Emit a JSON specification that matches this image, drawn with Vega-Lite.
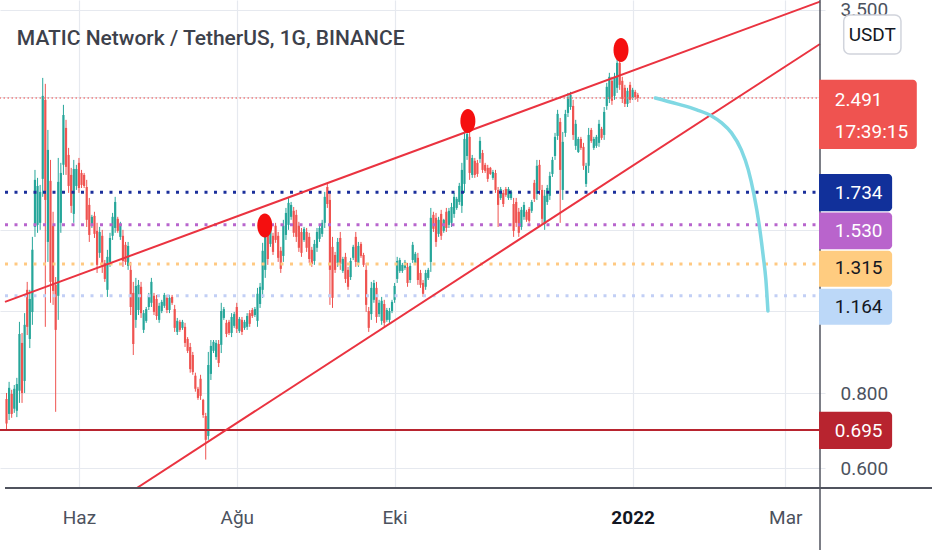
{
  "$schema": "https://vega.github.io/schema/vega-lite/v6.json",
  "description": "MATIC/USDT gunluk mum grafigi, kanal cizgileri ve seviyeler",
  "width": 825,
  "height": 488,
  "autosize": {"type": "none"},
  "padding": {"left": 0, "top": 0, "right": 107, "bottom": 62},
  "background": "#ffffff",
  "config": {"view": {"stroke": null}, "font": "Roboto"},
  "datasets": {
    "candles": [
      {"t":"2021-05-04","o":0.783,"h":0.801,"l":0.695,"c":0.712},
      {"t":"2021-05-05","o":0.739,"h":0.836,"l":0.722,"c":0.817},
      {"t":"2021-05-06","o":0.798,"h":0.811,"l":0.728,"c":0.739},
      {"t":"2021-05-07","o":0.754,"h":0.826,"l":0.742,"c":0.814},
      {"t":"2021-05-08","o":0.748,"h":0.849,"l":0.730,"c":0.829},
      {"t":"2021-05-09","o":0.808,"h":1.053,"l":0.771,"c":1.005},
      {"t":"2021-05-10","o":0.971,"h":1.009,"l":0.771,"c":0.801},
      {"t":"2021-05-11","o":0.839,"h":1.089,"l":0.801,"c":1.041},
      {"t":"2021-05-12","o":1.191,"h":1.228,"l":1.001,"c":1.033},
      {"t":"2021-05-13","o":0.986,"h":1.191,"l":0.952,"c":1.150},
      {"t":"2021-05-14","o":1.094,"h":1.460,"l":1.041,"c":1.389},
      {"t":"2021-05-15","o":1.517,"h":1.889,"l":1.460,"c":1.818},
      {"t":"2021-05-16","o":1.529,"h":1.832,"l":1.483,"c":1.776},
      {"t":"2021-05-17","o":1.541,"h":1.783,"l":1.500,"c":1.736},
      {"t":"2021-05-18","o":1.825,"h":2.691,"l":1.703,"c":2.511},
      {"t":"2021-05-19","o":2.473,"h":2.630,"l":1.033,"c":1.683},
      {"t":"2021-05-20","o":1.432,"h":2.203,"l":1.326,"c":2.040},
      {"t":"2021-05-21","o":1.811,"h":1.963,"l":1.133,"c":1.228},
      {"t":"2021-05-22","o":1.524,"h":1.608,"l":1.124,"c":1.186},
      {"t":"2021-05-23","o":1.214,"h":1.251,"l":0.745,"c":1.021},
      {"t":"2021-05-24","o":1.164,"h":1.978,"l":1.061,"c":1.804},
      {"t":"2021-05-25","o":1.541,"h":1.941,"l":1.483,"c":1.867},
      {"t":"2021-05-26","o":1.926,"h":2.426,"l":1.853,"c":2.334},
      {"t":"2021-05-27","o":2.220,"h":2.290,"l":1.853,"c":1.911},
      {"t":"2021-05-28","o":2.001,"h":2.056,"l":1.729,"c":1.776},
      {"t":"2021-05-29","o":1.853,"h":1.904,"l":1.601,"c":1.645},
      {"t":"2021-05-30","o":1.595,"h":1.963,"l":1.541,"c":1.896},
      {"t":"2021-05-31","o":1.776,"h":1.926,"l":1.749,"c":1.896},
      {"t":"2021-06-01","o":1.941,"h":1.978,"l":1.729,"c":1.762},
      {"t":"2021-06-02","o":1.867,"h":1.889,"l":1.762,"c":1.783},
      {"t":"2021-06-03","o":1.853,"h":1.867,"l":1.762,"c":1.776},
      {"t":"2021-06-04","o":1.769,"h":1.818,"l":1.517,"c":1.559},
      {"t":"2021-06-05","o":1.651,"h":1.696,"l":1.432,"c":1.471},
      {"t":"2021-06-06","o":1.524,"h":1.589,"l":1.511,"c":1.577},
      {"t":"2021-06-07","o":1.583,"h":1.608,"l":1.454,"c":1.477},
      {"t":"2021-06-08","o":1.494,"h":1.541,"l":1.271,"c":1.311},
      {"t":"2021-06-09","o":1.373,"h":1.517,"l":1.347,"c":1.488},
      {"t":"2021-06-10","o":1.466,"h":1.500,"l":1.271,"c":1.301},
      {"t":"2021-06-11","o":1.321,"h":1.336,"l":1.228,"c":1.242},
      {"t":"2021-06-12","o":1.191,"h":1.389,"l":1.159,"c":1.352},
      {"t":"2021-06-13","o":1.326,"h":1.483,"l":1.301,"c":1.454},
      {"t":"2021-06-14","o":1.466,"h":1.601,"l":1.443,"c":1.577},
      {"t":"2021-06-15","o":1.511,"h":1.703,"l":1.483,"c":1.670},
      {"t":"2021-06-16","o":1.565,"h":1.577,"l":1.483,"c":1.494},
      {"t":"2021-06-17","o":1.460,"h":1.547,"l":1.443,"c":1.529},
      {"t":"2021-06-18","o":1.466,"h":1.500,"l":1.301,"c":1.331},
      {"t":"2021-06-19","o":1.416,"h":1.432,"l":1.311,"c":1.326},
      {"t":"2021-06-20","o":1.306,"h":1.432,"l":1.286,"c":1.410},
      {"t":"2021-06-21","o":1.286,"h":1.326,"l":1.081,"c":1.115},
      {"t":"2021-06-22","o":1.177,"h":1.228,"l":0.927,"c":0.967},
      {"t":"2021-06-23","o":1.061,"h":1.247,"l":1.029,"c":1.209},
      {"t":"2021-06-24","o":1.102,"h":1.237,"l":1.081,"c":1.214},
      {"t":"2021-06-25","o":1.205,"h":1.228,"l":1.069,"c":1.089},
      {"t":"2021-06-26","o":1.021,"h":1.102,"l":1.009,"c":1.089},
      {"t":"2021-06-27","o":1.057,"h":1.115,"l":1.049,"c":1.106},
      {"t":"2021-06-28","o":1.115,"h":1.177,"l":1.102,"c":1.164},
      {"t":"2021-06-29","o":1.133,"h":1.247,"l":1.115,"c":1.228},
      {"t":"2021-06-30","o":1.164,"h":1.177,"l":1.081,"c":1.094},
      {"t":"2021-07-01","o":1.150,"h":1.168,"l":1.061,"c":1.077},
      {"t":"2021-07-02","o":1.061,"h":1.133,"l":1.049,"c":1.120},
      {"t":"2021-07-03","o":1.098,"h":1.146,"l":1.089,"c":1.137},
      {"t":"2021-07-04","o":1.120,"h":1.177,"l":1.111,"c":1.168},
      {"t":"2021-07-05","o":1.155,"h":1.168,"l":1.089,"c":1.102},
      {"t":"2021-07-06","o":1.102,"h":1.168,"l":1.089,"c":1.155},
      {"t":"2021-07-07","o":1.159,"h":1.168,"l":1.124,"c":1.133},
      {"t":"2021-07-08","o":1.106,"h":1.124,"l":1.013,"c":1.029},
      {"t":"2021-07-09","o":1.013,"h":1.069,"l":1.001,"c":1.057},
      {"t":"2021-07-10","o":1.053,"h":1.061,"l":1.013,"c":1.021},
      {"t":"2021-07-11","o":1.029,"h":1.061,"l":1.021,"c":1.053},
      {"t":"2021-07-12","o":1.033,"h":1.049,"l":0.956,"c":0.971},
      {"t":"2021-07-13","o":0.986,"h":0.993,"l":0.934,"c":0.942},
      {"t":"2021-07-14","o":0.956,"h":0.971,"l":0.866,"c":0.878},
      {"t":"2021-07-15","o":0.927,"h":0.938,"l":0.859,"c":0.868},
      {"t":"2021-07-16","o":0.856,"h":0.866,"l":0.805,"c":0.814},
      {"t":"2021-07-17","o":0.814,"h":0.820,"l":0.780,"c":0.786},
      {"t":"2021-07-18","o":0.846,"h":0.859,"l":0.780,"c":0.792},
      {"t":"2021-07-19","o":0.780,"h":0.783,"l":0.728,"c":0.736},
      {"t":"2021-07-20","o":0.733,"h":0.742,"l":0.620,"c":0.669},
      {"t":"2021-07-21","o":0.679,"h":0.938,"l":0.669,"c":0.892},
      {"t":"2021-07-22","o":0.862,"h":0.982,"l":0.842,"c":0.960},
      {"t":"2021-07-23","o":0.942,"h":0.982,"l":0.934,"c":0.975},
      {"t":"2021-07-24","o":0.920,"h":0.982,"l":0.910,"c":0.971},
      {"t":"2021-07-25","o":0.967,"h":0.982,"l":0.885,"c":0.899},
      {"t":"2021-07-26","o":0.964,"h":1.133,"l":0.934,"c":1.098},
      {"t":"2021-07-27","o":1.069,"h":1.115,"l":1.061,"c":1.106},
      {"t":"2021-07-28","o":1.049,"h":1.061,"l":0.993,"c":1.005},
      {"t":"2021-07-29","o":1.053,"h":1.061,"l":1.001,"c":1.009},
      {"t":"2021-07-30","o":1.009,"h":1.089,"l":0.993,"c":1.073},
      {"t":"2021-07-31","o":1.037,"h":1.094,"l":1.029,"c":1.085},
      {"t":"2021-08-01","o":1.115,"h":1.133,"l":1.009,"c":1.025},
      {"t":"2021-08-02","o":1.017,"h":1.073,"l":1.009,"c":1.065},
      {"t":"2021-08-03","o":1.061,"h":1.073,"l":1.001,"c":1.013},
      {"t":"2021-08-04","o":1.029,"h":1.061,"l":1.021,"c":1.053},
      {"t":"2021-08-05","o":1.033,"h":1.089,"l":1.021,"c":1.077},
      {"t":"2021-08-06","o":1.089,"h":1.102,"l":1.033,"c":1.045},
      {"t":"2021-08-07","o":1.102,"h":1.111,"l":1.069,"c":1.077},
      {"t":"2021-08-08","o":1.081,"h":1.115,"l":1.073,"c":1.106},
      {"t":"2021-08-09","o":1.057,"h":1.200,"l":1.033,"c":1.173},
      {"t":"2021-08-10","o":1.128,"h":1.223,"l":1.111,"c":1.205},
      {"t":"2021-08-11","o":1.191,"h":1.427,"l":1.155,"c":1.384},
      {"t":"2021-08-12","o":1.286,"h":1.517,"l":1.247,"c":1.471},
      {"t":"2021-08-13","o":1.477,"h":1.511,"l":1.311,"c":1.341},
      {"t":"2021-08-14","o":1.421,"h":1.529,"l":1.405,"c":1.511},
      {"t":"2021-08-15","o":1.466,"h":1.483,"l":1.362,"c":1.378},
      {"t":"2021-08-16","o":1.524,"h":1.541,"l":1.427,"c":1.443},
      {"t":"2021-08-17","o":1.466,"h":1.488,"l":1.326,"c":1.347},
      {"t":"2021-08-18","o":1.384,"h":1.405,"l":1.271,"c":1.291},
      {"t":"2021-08-19","o":1.357,"h":1.559,"l":1.326,"c":1.524},
      {"t":"2021-08-20","o":1.471,"h":1.632,"l":1.443,"c":1.601},
      {"t":"2021-08-21","o":1.529,"h":1.696,"l":1.500,"c":1.664},
      {"t":"2021-08-22","o":1.577,"h":1.670,"l":1.559,"c":1.651},
      {"t":"2021-08-23","o":1.614,"h":1.638,"l":1.460,"c":1.483},
      {"t":"2021-08-24","o":1.589,"h":1.620,"l":1.432,"c":1.460},
      {"t":"2021-08-25","o":1.524,"h":1.547,"l":1.378,"c":1.400},
      {"t":"2021-08-26","o":1.488,"h":1.511,"l":1.352,"c":1.373},
      {"t":"2021-08-27","o":1.443,"h":1.517,"l":1.432,"c":1.506},
      {"t":"2021-08-28","o":1.488,"h":1.511,"l":1.378,"c":1.400},
      {"t":"2021-08-29","o":1.460,"h":1.483,"l":1.321,"c":1.341},
      {"t":"2021-08-30","o":1.389,"h":1.405,"l":1.301,"c":1.316},
      {"t":"2021-08-31","o":1.331,"h":1.443,"l":1.311,"c":1.421},
      {"t":"2021-09-01","o":1.400,"h":1.511,"l":1.378,"c":1.488},
      {"t":"2021-09-02","o":1.449,"h":1.529,"l":1.432,"c":1.511},
      {"t":"2021-09-03","o":1.477,"h":1.559,"l":1.460,"c":1.541},
      {"t":"2021-09-04","o":1.541,"h":1.736,"l":1.511,"c":1.703},
      {"t":"2021-09-05","o":1.769,"h":1.797,"l":1.632,"c":1.657},
      {"t":"2021-09-06","o":1.683,"h":1.729,"l":1.124,"c":1.286},
      {"t":"2021-09-07","o":1.405,"h":1.460,"l":1.111,"c":1.155},
      {"t":"2021-09-08","o":1.362,"h":1.378,"l":1.271,"c":1.286},
      {"t":"2021-09-09","o":1.321,"h":1.454,"l":1.301,"c":1.432},
      {"t":"2021-09-10","o":1.454,"h":1.488,"l":1.286,"c":1.316},
      {"t":"2021-09-11","o":1.281,"h":1.352,"l":1.271,"c":1.341},
      {"t":"2021-09-12","o":1.352,"h":1.373,"l":1.223,"c":1.242},
      {"t":"2021-09-13","o":1.286,"h":1.301,"l":1.191,"c":1.205},
      {"t":"2021-09-14","o":1.251,"h":1.347,"l":1.237,"c":1.331},
      {"t":"2021-09-15","o":1.347,"h":1.416,"l":1.336,"c":1.405},
      {"t":"2021-09-16","o":1.460,"h":1.488,"l":1.301,"c":1.326},
      {"t":"2021-09-17","o":1.321,"h":1.432,"l":1.301,"c":1.410},
      {"t":"2021-09-18","o":1.421,"h":1.432,"l":1.347,"c":1.357},
      {"t":"2021-09-19","o":1.362,"h":1.373,"l":1.301,"c":1.311},
      {"t":"2021-09-20","o":1.286,"h":1.321,"l":1.094,"c":1.124},
      {"t":"2021-09-21","o":1.098,"h":1.115,"l":1.013,"c":1.029},
      {"t":"2021-09-22","o":1.085,"h":1.228,"l":1.061,"c":1.200},
      {"t":"2021-09-23","o":1.146,"h":1.237,"l":1.133,"c":1.223},
      {"t":"2021-09-24","o":1.200,"h":1.228,"l":1.049,"c":1.073},
      {"t":"2021-09-25","o":1.085,"h":1.146,"l":1.073,"c":1.133},
      {"t":"2021-09-26","o":1.057,"h":1.159,"l":1.041,"c":1.142},
      {"t":"2021-09-27","o":1.128,"h":1.146,"l":1.033,"c":1.049},
      {"t":"2021-09-28","o":1.061,"h":1.111,"l":1.053,"c":1.102},
      {"t":"2021-09-29","o":1.061,"h":1.111,"l":1.049,"c":1.098},
      {"t":"2021-09-30","o":1.098,"h":1.146,"l":1.089,"c":1.137},
      {"t":"2021-10-01","o":1.146,"h":1.223,"l":1.133,"c":1.209},
      {"t":"2021-10-02","o":1.242,"h":1.352,"l":1.223,"c":1.331},
      {"t":"2021-10-03","o":1.281,"h":1.347,"l":1.271,"c":1.336},
      {"t":"2021-10-04","o":1.281,"h":1.321,"l":1.271,"c":1.311},
      {"t":"2021-10-05","o":1.296,"h":1.336,"l":1.286,"c":1.326},
      {"t":"2021-10-06","o":1.301,"h":1.321,"l":1.205,"c":1.223},
      {"t":"2021-10-07","o":1.237,"h":1.321,"l":1.223,"c":1.306},
      {"t":"2021-10-08","o":1.336,"h":1.432,"l":1.321,"c":1.416},
      {"t":"2021-10-09","o":1.321,"h":1.378,"l":1.311,"c":1.368},
      {"t":"2021-10-10","o":1.347,"h":1.373,"l":1.214,"c":1.237},
      {"t":"2021-10-11","o":1.271,"h":1.286,"l":1.200,"c":1.214},
      {"t":"2021-10-12","o":1.223,"h":1.237,"l":1.159,"c":1.173},
      {"t":"2021-10-13","o":1.205,"h":1.286,"l":1.191,"c":1.271},
      {"t":"2021-10-14","o":1.247,"h":1.296,"l":1.237,"c":1.286},
      {"t":"2021-10-15","o":1.326,"h":1.632,"l":1.276,"c":1.571},
      {"t":"2021-10-16","o":1.589,"h":1.608,"l":1.488,"c":1.506},
      {"t":"2021-10-17","o":1.571,"h":1.601,"l":1.405,"c":1.432},
      {"t":"2021-10-18","o":1.477,"h":1.577,"l":1.460,"c":1.559},
      {"t":"2021-10-19","o":1.595,"h":1.620,"l":1.443,"c":1.466},
      {"t":"2021-10-20","o":1.494,"h":1.565,"l":1.483,"c":1.559},
      {"t":"2021-10-21","o":1.608,"h":1.632,"l":1.488,"c":1.511},
      {"t":"2021-10-22","o":1.529,"h":1.632,"l":1.511,"c":1.614},
      {"t":"2021-10-23","o":1.541,"h":1.664,"l":1.517,"c":1.638},
      {"t":"2021-10-24","o":1.595,"h":1.729,"l":1.571,"c":1.703},
      {"t":"2021-10-25","o":1.632,"h":1.703,"l":1.620,"c":1.690},
      {"t":"2021-10-26","o":1.670,"h":1.797,"l":1.651,"c":1.776},
      {"t":"2021-10-27","o":1.645,"h":1.941,"l":1.601,"c":1.889},
      {"t":"2021-10-28","o":1.790,"h":2.203,"l":1.729,"c":2.128},
      {"t":"2021-10-29","o":1.993,"h":2.220,"l":1.963,"c":2.169},
      {"t":"2021-10-30","o":2.145,"h":2.203,"l":1.818,"c":1.867},
      {"t":"2021-10-31","o":1.853,"h":2.001,"l":1.832,"c":1.978},
      {"t":"2021-11-01","o":1.956,"h":1.978,"l":1.832,"c":1.853},
      {"t":"2021-11-02","o":1.941,"h":1.963,"l":1.839,"c":1.860},
      {"t":"2021-11-03","o":1.971,"h":2.145,"l":1.941,"c":2.112},
      {"t":"2021-11-04","o":2.016,"h":2.040,"l":1.867,"c":1.889},
      {"t":"2021-11-05","o":1.926,"h":1.941,"l":1.867,"c":1.882},
      {"t":"2021-11-06","o":1.904,"h":1.926,"l":1.804,"c":1.825},
      {"t":"2021-11-07","o":1.904,"h":1.911,"l":1.853,"c":1.860},
      {"t":"2021-11-08","o":1.832,"h":1.889,"l":1.818,"c":1.874},
      {"t":"2021-11-09","o":1.867,"h":1.889,"l":1.729,"c":1.749},
      {"t":"2021-11-10","o":1.749,"h":1.769,"l":1.517,"c":1.651},
      {"t":"2021-11-11","o":1.696,"h":1.769,"l":1.683,"c":1.755},
      {"t":"2021-11-12","o":1.729,"h":1.749,"l":1.638,"c":1.657},
      {"t":"2021-11-13","o":1.755,"h":1.769,"l":1.703,"c":1.716},
      {"t":"2021-11-14","o":1.696,"h":1.769,"l":1.683,"c":1.755},
      {"t":"2021-11-15","o":1.696,"h":1.749,"l":1.683,"c":1.736},
      {"t":"2021-11-16","o":1.657,"h":1.696,"l":1.460,"c":1.494},
      {"t":"2021-11-17","o":1.670,"h":1.696,"l":1.517,"c":1.541},
      {"t":"2021-11-18","o":1.608,"h":1.632,"l":1.460,"c":1.483},
      {"t":"2021-11-19","o":1.517,"h":1.638,"l":1.500,"c":1.620},
      {"t":"2021-11-20","o":1.577,"h":1.670,"l":1.559,"c":1.651},
      {"t":"2021-11-21","o":1.608,"h":1.620,"l":1.547,"c":1.559},
      {"t":"2021-11-22","o":1.626,"h":1.638,"l":1.541,"c":1.553},
      {"t":"2021-11-23","o":1.614,"h":1.683,"l":1.601,"c":1.670},
      {"t":"2021-11-24","o":1.797,"h":1.818,"l":1.670,"c":1.690},
      {"t":"2021-11-25","o":1.723,"h":1.963,"l":1.683,"c":1.919},
      {"t":"2021-11-26","o":1.926,"h":1.963,"l":1.716,"c":1.749},
      {"t":"2021-11-27","o":1.749,"h":1.783,"l":1.529,"c":1.565},
      {"t":"2021-11-28","o":1.535,"h":1.749,"l":1.500,"c":1.710},
      {"t":"2021-11-29","o":1.670,"h":1.783,"l":1.651,"c":1.762},
      {"t":"2021-11-30","o":1.710,"h":1.875,"l":1.683,"c":1.846},
      {"t":"2021-12-01","o":1.860,"h":1.986,"l":1.839,"c":1.963},
      {"t":"2021-12-02","o":1.993,"h":2.178,"l":1.963,"c":2.145},
      {"t":"2021-12-03","o":2.153,"h":2.380,"l":2.120,"c":2.343},
      {"t":"2021-12-04","o":2.272,"h":2.307,"l":1.541,"c":1.889},
      {"t":"2021-12-05","o":1.749,"h":2.186,"l":1.683,"c":2.104},
      {"t":"2021-12-06","o":2.178,"h":2.380,"l":2.145,"c":2.343},
      {"t":"2021-12-07","o":2.352,"h":2.540,"l":2.315,"c":2.501},
      {"t":"2021-12-08","o":2.406,"h":2.550,"l":2.380,"c":2.521},
      {"t":"2021-12-09","o":2.416,"h":2.473,"l":2.120,"c":2.161},
      {"t":"2021-12-10","o":2.072,"h":2.290,"l":2.040,"c":2.255},
      {"t":"2021-12-11","o":2.024,"h":2.145,"l":2.016,"c":2.128},
      {"t":"2021-12-12","o":2.128,"h":2.145,"l":2.040,"c":2.056},
      {"t":"2021-12-13","o":2.064,"h":2.096,"l":1.889,"c":1.919},
      {"t":"2021-12-14","o":1.790,"h":1.941,"l":1.769,"c":1.919},
      {"t":"2021-12-15","o":1.919,"h":2.220,"l":1.867,"c":2.161},
      {"t":"2021-12-16","o":2.203,"h":2.220,"l":2.096,"c":2.112},
      {"t":"2021-12-17","o":2.056,"h":2.145,"l":2.040,"c":2.128},
      {"t":"2021-12-18","o":2.072,"h":2.161,"l":2.056,"c":2.145},
      {"t":"2021-12-19","o":2.096,"h":2.290,"l":2.064,"c":2.255},
      {"t":"2021-12-20","o":2.212,"h":2.229,"l":2.120,"c":2.137},
      {"t":"2021-12-21","o":2.161,"h":2.406,"l":2.120,"c":2.361},
      {"t":"2021-12-22","o":2.416,"h":2.640,"l":2.380,"c":2.600},
      {"t":"2021-12-23","o":2.482,"h":2.744,"l":2.443,"c":2.702},
      {"t":"2021-12-24","o":2.661,"h":2.702,"l":2.426,"c":2.464},
      {"t":"2021-12-25","o":2.511,"h":2.744,"l":2.473,"c":2.702},
      {"t":"2021-12-26","o":2.590,"h":2.906,"l":2.540,"c":2.851},
      {"t":"2021-12-27","o":2.851,"h":2.906,"l":2.570,"c":2.620},
      {"t":"2021-12-28","o":2.661,"h":2.702,"l":2.443,"c":2.482},
      {"t":"2021-12-29","o":2.590,"h":2.620,"l":2.406,"c":2.435},
      {"t":"2021-12-30","o":2.435,"h":2.590,"l":2.406,"c":2.560},
      {"t":"2021-12-31","o":2.620,"h":2.650,"l":2.443,"c":2.473},
      {"t":"2022-01-01","o":2.491,"h":2.590,"l":2.473,"c":2.570},
      {"t":"2022-01-02","o":2.550,"h":2.570,"l":2.473,"c":2.500},
      {"t":"2022-01-03","o":2.521,"h":2.540,"l":2.454,"c":2.491}
    ],
    "levels": [
      {"k":"1.734","p":1.734},
      {"k":"1.530","p":1.530},
      {"k":"1.315","p":1.315},
      {"k":"1.164","p":1.164}
    ],
    "trend": [
      {"g":"upper","t":"2021-05-03T10:00:00Z","p":1.137},
      {"g":"upper","t":"2022-03-14T10:00:00Z","p":3.608},
      {"g":"lower","t":"2021-06-23T09:00:00Z","p":0.5558},
      {"g":"lower","t":"2022-03-14T10:00:00Z","p":3.066}
    ],
    "forecast": [
      {"t":"2022-01-09T19:00:00Z","p":2.491},
      {"t":"2022-01-18T05:00:00Z","p":2.435},
      {"t":"2022-01-25T19:00:00Z","p":2.380},
      {"t":"2022-01-31T12:00:00Z","p":2.325},
      {"t":"2022-02-04T10:00:00Z","p":2.264},
      {"t":"2022-02-08T05:00:00Z","p":2.178},
      {"t":"2022-02-12T00:00:00Z","p":2.040},
      {"t":"2022-02-14T17:00:00Z","p":1.889},
      {"t":"2022-02-16T22:00:00Z","p":1.716},
      {"t":"2022-02-18T22:00:00Z","p":1.529},
      {"t":"2022-02-20T10:00:00Z","p":1.362},
      {"t":"2022-02-21T12:00:00Z","p":1.237},
      {"t":"2022-02-22T07:00:00Z","p":1.098}
    ],
    "peaks": [
      {"t":"2021-08-11T20:00:00Z","p":1.526},
      {"t":"2021-10-29T07:30:00Z","p":2.281},
      {"t":"2021-12-27T12:00:00Z","p":2.997}
    ],
    "tags": [
      {"k":"2.491","s":"2022-03-14T01:00:00Z","e":"2022-04-20T20:00:00Z","tx":"2022-03-20T03:30:00Z","hi":2.671,"lo":2.048,"ty":2.473},
      {"k":"1.734","s":"2022-03-14T01:00:00Z","e":"2022-04-11T07:00:00Z","tx":"2022-03-20T03:30:00Z","hi":1.860,"lo":1.612,"ty":1.729},
      {"k":"1.530","s":"2022-03-14T01:00:00Z","e":"2022-04-11T07:00:00Z","tx":"2022-03-20T03:30:00Z","hi":1.603,"lo":1.392,"ty":1.494},
      {"k":"1.315","s":"2022-03-14T01:00:00Z","e":"2022-04-11T07:00:00Z","tx":"2022-03-20T03:30:00Z","hi":1.384,"lo":1.205,"ty":1.296},
      {"k":"1.164","s":"2022-03-14T01:00:00Z","e":"2022-04-11T07:00:00Z","tx":"2022-03-20T03:30:00Z","hi":1.196,"lo":1.041,"ty":1.115},
      {"k":"0.695","s":"2022-03-14T01:00:00Z","e":"2022-04-11T07:00:00Z","tx":"2022-03-20T03:30:00Z","hi":0.745,"lo":0.646,"ty":0.693}
    ]
  },
  "layer": [
    {
      "data": {"name": "candles"},
      "mark": {"type": "rule", "strokeWidth": 1},
      "encoding": {
        "x": {
          "field": "t",
          "type": "temporal",
          "scale": {"type": "utc", "nice": false, "domain": [{"year": 2021, "month": 5, "date": 3, "hours": 10, "utc": true}, {"year": 2022, "month": 3, "date": 14, "hours": 10, "utc": true}]},
          "axis": {
            "title": null,
            "values": [
              {"year": 2021, "month": 6, "date": 1, "utc": true},
              {"year": 2021, "month": 8, "date": 1, "utc": true},
              {"year": 2021, "month": 10, "date": 1, "utc": true},
              {"year": 2022, "month": 1, "date": 1, "utc": true},
              {"year": 2022, "month": 3, "date": 1, "utc": true}
            ],
            "labelExpr": "utcmonth(datum.value) == 0 ? '' + utcyear(datum.value) : ['Oca','Şub','Mar','Nis','May','Haz','Tem','Ağu','Eyl','Eki','Kas','Ara'][utcmonth(datum.value)]",
            "grid": true,
            "gridColor": "#e6e9ef",
            "gridWidth": 1.2,
            "ticks": false,
            "domain": false,
            "labelFlush": false,
            "labelOverlap": false,
            "labelPadding": 20,
            "labelFont": "Roboto",
            "labelFontSize": 19,
            "labelColor": {"condition": {"test": "utcmonth(datum.value) == 0", "value": "#131722"}, "value": "#4c525e"},
            "labelFontWeight": {"condition": {"test": "utcmonth(datum.value) == 0", "value": "bold"}, "value": "normal"},
            "zindex": 0
          }
        },
        "y": {
          "field": "l",
          "type": "quantitative",
          "scale": {"type": "log", "nice": false, "domain": [0.5558, 3.631]},
          "axis": {
            "title": null,
            "orient": "right",
            "values": [0.6, 0.8, 1.1, 1.5, 2.5, 3.5],
            "format": ".3f",
            "labelExpr": "datum.value < 1 || datum.value > 3 ? datum.label : ''",
            "grid": true,
            "gridColor": "#e6e9ef",
            "gridWidth": 1.2,
            "ticks": false,
            "domain": false,
            "labelFlush": false,
            "labelOverlap": false,
            "labelPadding": 15,
            "labelBaseline": "middle",
            "labelFont": "Roboto",
            "labelFontSize": 19,
            "labelColor": "#4c525e",
            "zindex": 0
          }
        },
        "y2": {"field": "h"},
        "color": {"condition": {"test": "datum.c >= datum.o", "value": "#26a69a"}, "value": "#ef5350"}
      }
    },
    {
      "data": {"name": "candles"},
      "mark": {"type": "bar", "width": 2.2},
      "encoding": {
        "x": {"field": "t", "type": "temporal", "scale": {"type": "utc", "nice": false, "domain": [{"year": 2021, "month": 5, "date": 3, "hours": 10, "utc": true}, {"year": 2022, "month": 3, "date": 14, "hours": 10, "utc": true}]}},
        "y": {"field": "o", "type": "quantitative", "scale": {"type": "log", "nice": false, "domain": [0.5558, 3.631]}},
        "y2": {"field": "c"},
        "color": {"condition": {"test": "datum.c >= datum.o", "value": "#26a69a"}, "value": "#ef5350"}
      }
    },
    {
      "data": {"name": "levels"},
      "mark": {"type": "rule", "strokeWidth": 3, "strokeDash": [3, 6.5]},
      "encoding": {
        "y": {"field": "p", "type": "quantitative", "scale": {"type": "log", "nice": false, "domain": [0.5558, 3.631]}},
        "color": {
          "condition": [
            {"test": "datum.k == '1.734'", "value": "#1b2f9b"},
            {"test": "datum.k == '1.530'", "value": "#b865cd"},
            {"test": "datum.k == '1.315'", "value": "#ffc982"}
          ],
          "value": "#c2cff5"
        }
      }
    },
    {
      "data": {"values": [{"p": 2.491}]},
      "mark": {"type": "rule", "strokeWidth": 1.5, "strokeDash": [1.5, 2.5], "color": "#f08080"},
      "encoding": {"y": {"field": "p", "type": "quantitative", "scale": {"type": "log", "nice": false, "domain": [0.5558, 3.631]}}}
    },
    {
      "data": {"values": [{"p": 0.695}]},
      "mark": {"type": "rule", "strokeWidth": 2, "color": "#b8242f"},
      "encoding": {"y": {"field": "p", "type": "quantitative", "scale": {"type": "log", "nice": false, "domain": [0.5558, 3.631]}}}
    },
    {
      "data": {"name": "trend"},
      "mark": {"type": "line", "strokeWidth": 2, "color": "#ea3340", "clip": true},
      "encoding": {
        "x": {"field": "t", "type": "temporal", "scale": {"type": "utc", "nice": false, "domain": [{"year": 2021, "month": 5, "date": 3, "hours": 10, "utc": true}, {"year": 2022, "month": 3, "date": 14, "hours": 10, "utc": true}]}},
        "y": {"field": "p", "type": "quantitative", "scale": {"type": "log", "nice": false, "domain": [0.5558, 3.631]}},
        "detail": {"field": "g"}
      }
    },
    {
      "data": {"name": "forecast"},
      "mark": {"type": "line", "strokeWidth": 3.5, "color": "#80d8e3", "interpolate": "monotone", "strokeCap": "round"},
      "encoding": {
        "x": {"field": "t", "type": "temporal", "scale": {"type": "utc", "nice": false, "domain": [{"year": 2021, "month": 5, "date": 3, "hours": 10, "utc": true}, {"year": 2022, "month": 3, "date": 14, "hours": 10, "utc": true}]}},
        "y": {"field": "p", "type": "quantitative", "scale": {"type": "log", "nice": false, "domain": [0.5558, 3.631]}}
      }
    },
    {
      "data": {"name": "peaks"},
      "mark": {"type": "point", "filled": true, "opacity": 1, "size": 576, "color": "#f50f0f", "shape": "M-0.625,0 A0.625,1 0 1,0 0.625,0 A0.625,1 0 1,0 -0.625,0 Z"},
      "encoding": {
        "x": {"field": "t", "type": "temporal", "scale": {"type": "utc", "nice": false, "domain": [{"year": 2021, "month": 5, "date": 3, "hours": 10, "utc": true}, {"year": 2022, "month": 3, "date": 14, "hours": 10, "utc": true}]}},
        "y": {"field": "p", "type": "quantitative", "scale": {"type": "log", "nice": false, "domain": [0.5558, 3.631]}}
      }
    },
    {
      "data": {"values": [{"t": "2021-05-08T00:00:00Z", "p": 3.054, "s": "MATIC Network / TetherUS, 1G, BINANCE"}]},
      "mark": {"type": "text", "align": "left", "baseline": "alphabetic", "font": "Roboto", "fontSize": 21, "fontWeight": 500, "color": "#3d414b"},
      "encoding": {
        "x": {"field": "t", "type": "temporal", "scale": {"type": "utc", "nice": false, "domain": [{"year": 2021, "month": 5, "date": 3, "hours": 10, "utc": true}, {"year": 2022, "month": 3, "date": 14, "hours": 10, "utc": true}]}},
        "y": {"field": "p", "type": "quantitative", "scale": {"type": "log", "nice": false, "domain": [0.5558, 3.631]}},
        "text": {"field": "s"}
      }
    },
    {
      "data": {"values": [{"t1": "2021-05-03T10:00:00Z", "t2": "2022-04-30T00:00:00Z", "p": 0.5558}]},
      "mark": {"type": "rule", "strokeWidth": 2, "color": "#50535e"},
      "encoding": {
        "x": {"field": "t1", "type": "temporal", "scale": {"type": "utc", "nice": false, "domain": [{"year": 2021, "month": 5, "date": 3, "hours": 10, "utc": true}, {"year": 2022, "month": 3, "date": 14, "hours": 10, "utc": true}]}},
        "x2": {"field": "t2"},
        "y": {"field": "p", "type": "quantitative", "scale": {"type": "log", "nice": false, "domain": [0.5558, 3.631]}}
      }
    },
    {
      "data": {"values": [{"t": "2022-03-14T10:00:00Z", "p1": 3.9, "p2": 0.4}]},
      "mark": {"type": "rule", "strokeWidth": 1.5, "color": "#50535e"},
      "encoding": {
        "x": {"field": "t", "type": "temporal", "scale": {"type": "utc", "nice": false, "domain": [{"year": 2021, "month": 5, "date": 3, "hours": 10, "utc": true}, {"year": 2022, "month": 3, "date": 14, "hours": 10, "utc": true}]}},
        "y": {"field": "p1", "type": "quantitative", "scale": {"type": "log", "nice": false, "domain": [0.5558, 3.631]}},
        "y2": {"field": "p2"}
      }
    },
    {
      "data": {"name": "tags"},
      "mark": {"type": "rect", "cornerRadiusTopRight": 4, "cornerRadiusBottomRight": 4},
      "encoding": {
        "x": {"field": "s", "type": "temporal", "scale": {"type": "utc", "nice": false, "domain": [{"year": 2021, "month": 5, "date": 3, "hours": 10, "utc": true}, {"year": 2022, "month": 3, "date": 14, "hours": 10, "utc": true}]}},
        "x2": {"field": "e"},
        "y": {"field": "hi", "type": "quantitative", "scale": {"type": "log", "nice": false, "domain": [0.5558, 3.631]}},
        "y2": {"field": "lo"},
        "color": {
          "condition": [
            {"test": "datum.k == '2.491'", "value": "#ef5350"},
            {"test": "datum.k == '1.734'", "value": "#11309a"},
            {"test": "datum.k == '1.530'", "value": "#b964cc"},
            {"test": "datum.k == '1.315'", "value": "#ffcc80"},
            {"test": "datum.k == '1.164'", "value": "#bcd8f8"}
          ],
          "value": "#b8242f"
        }
      }
    },
    {
      "data": {"name": "tags"},
      "mark": {"type": "text", "align": "left", "baseline": "middle", "font": "Roboto", "fontSize": 19},
      "encoding": {
        "x": {"field": "tx", "type": "temporal", "scale": {"type": "utc", "nice": false, "domain": [{"year": 2021, "month": 5, "date": 3, "hours": 10, "utc": true}, {"year": 2022, "month": 3, "date": 14, "hours": 10, "utc": true}]}},
        "y": {"field": "ty", "type": "quantitative", "scale": {"type": "log", "nice": false, "domain": [0.5558, 3.631]}},
        "text": {"field": "k"},
        "color": {
          "condition": {"test": "datum.k == '1.315' || datum.k == '1.164'", "value": "#131722"},
          "value": "#ffffff"
        }
      }
    },
    {
      "data": {"values": [{"t": "2022-03-20T03:30:00Z", "p": 2.186, "s": "17:39:15"}]},
      "mark": {"type": "text", "align": "left", "baseline": "middle", "font": "Roboto", "fontSize": 19, "color": "#ffffff"},
      "encoding": {
        "x": {"field": "t", "type": "temporal", "scale": {"type": "utc", "nice": false, "domain": [{"year": 2021, "month": 5, "date": 3, "hours": 10, "utc": true}, {"year": 2022, "month": 3, "date": 14, "hours": 10, "utc": true}]}},
        "y": {"field": "p", "type": "quantitative", "scale": {"type": "log", "nice": false, "domain": [0.5558, 3.631]}},
        "text": {"field": "s"}
      }
    },
    {
      "data": {"values": [{"t1": "2022-03-23T14:00:00Z", "t2": "2022-04-14T17:00:00Z", "p1": 3.428, "p2": 2.950}]},
      "mark": {"type": "rect", "fill": "#ffffff", "stroke": "#d1d4dc", "strokeWidth": 1.5, "cornerRadius": 6},
      "encoding": {
        "x": {"field": "t1", "type": "temporal", "scale": {"type": "utc", "nice": false, "domain": [{"year": 2021, "month": 5, "date": 3, "hours": 10, "utc": true}, {"year": 2022, "month": 3, "date": 14, "hours": 10, "utc": true}]}},
        "x2": {"field": "t2"},
        "y": {"field": "p1", "type": "quantitative", "scale": {"type": "log", "nice": false, "domain": [0.5558, 3.631]}},
        "y2": {"field": "p2"}
      }
    },
    {
      "data": {"values": [{"t": "2022-04-03T15:00:00Z", "p": 3.174, "s": "USDT"}]},
      "mark": {"type": "text", "align": "center", "baseline": "middle", "font": "Roboto", "fontSize": 19, "color": "#131722"},
      "encoding": {
        "x": {"field": "t", "type": "temporal", "scale": {"type": "utc", "nice": false, "domain": [{"year": 2021, "month": 5, "date": 3, "hours": 10, "utc": true}, {"year": 2022, "month": 3, "date": 14, "hours": 10, "utc": true}]}},
        "y": {"field": "p", "type": "quantitative", "scale": {"type": "log", "nice": false, "domain": [0.5558, 3.631]}},
        "text": {"field": "s"}
      }
    }
  ]
}
